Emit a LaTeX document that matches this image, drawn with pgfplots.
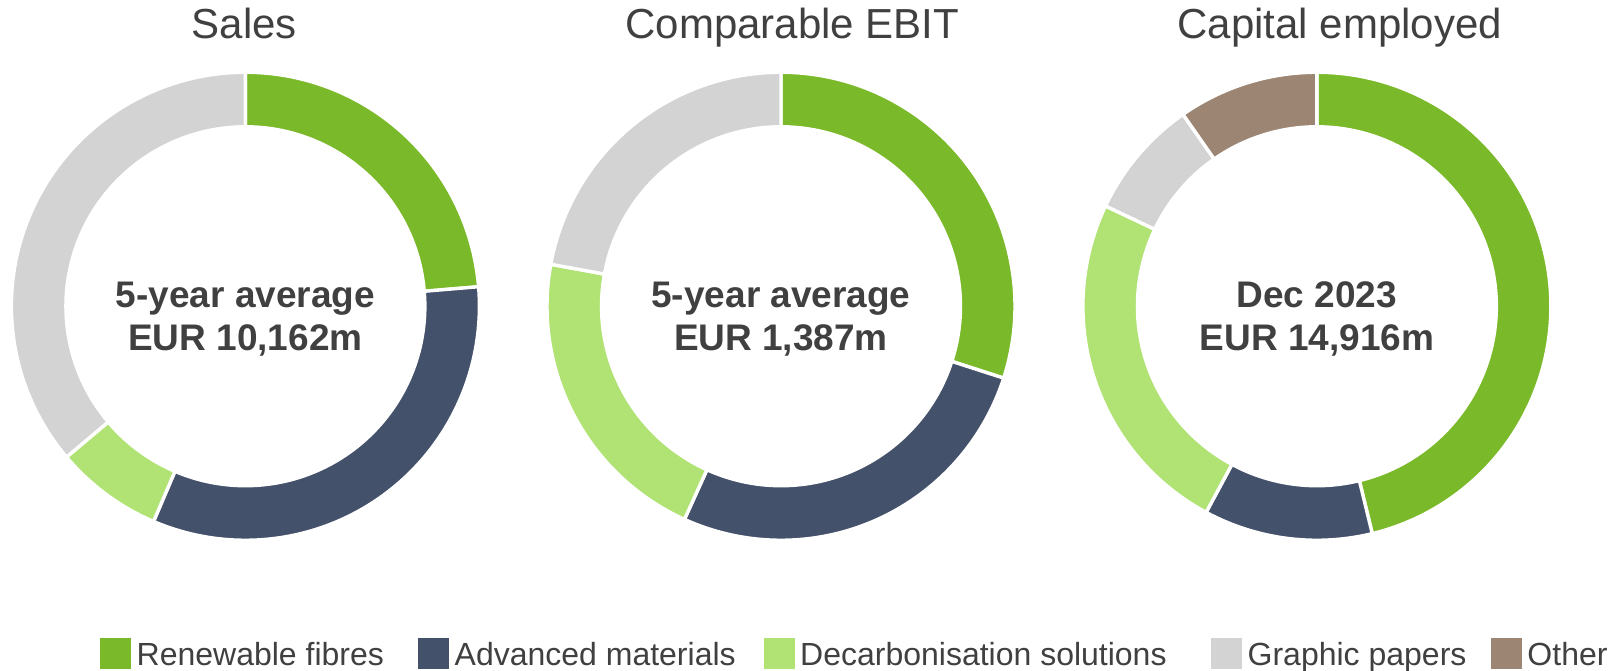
\documentclass[border=0pt]{standalone}
\usepackage{fontspec}
\setmainfont{Liberation Sans}
\usepackage{pgfplots}
\pgfplotsset{compat=1.18}
\definecolor{cRF}{HTML}{7AB929}
\definecolor{cAM}{HTML}{44516A}
\definecolor{cDS}{HTML}{B0E274}
\definecolor{cGP}{HTML}{D3D3D3}
\definecolor{cOT}{HTML}{9C8572}
\definecolor{txt}{HTML}{404040}

\newcommand\rin{0.767}
\newcommand\startdonut{\gdef\cum{0}}
% #1 = share in percent, #2 = colour
\newcommand\seg[2]{%
  \pgfmathsetmacro\aA{90-3.6*\cum}%
  \pgfmathsetmacro\newcum{\cum+#1}%
  \xdef\cum{\newcum}%
  \pgfmathsetmacro\aB{90-3.6*\cum}%
  \edef\doseg{\noexpand\addplot[forget plot, fill=#2, draw=white, line width=3.4pt,
      domain=0:3, samples=301, variable=\noexpand\t]
    ({(1-(1-\rin)*min(max(\noexpand\t-1,0),1))*cos((\aA)+((\aB)-(\aA))*(min(\noexpand\t,1)-max(\noexpand\t-2,0)))},
     {(1-(1-\rin)*min(max(\noexpand\t-1,0),1))*sin((\aA)+((\aB)-(\aA))*(min(\noexpand\t,1)-max(\noexpand\t-2,0)))}) -- cycle;}%
  \doseg
}

\pgfplotsset{donut/.style={hide axis, scale only axis, width=468pt, height=468pt,
  xmin=-1, xmax=1, ymin=-1, ymax=1, clip=false, anchor=center}}

\newcommand\titlefont{\fontsize{42pt}{50pt}\selectfont}
\newcommand\centerfont{\fontsize{37pt}{43pt}\selectfont\bfseries}

\begin{document}
\begin{tikzpicture}
\useasboundingbox (0,0) rectangle (1621pt,-671pt);

% ---------- Sales ----------
\begin{axis}[donut, at={(245.4pt,-306.25pt)},
  legend columns=5,
  legend image code/.code={\fill[#1] (0pt,-15.5pt) rectangle (31pt,15.5pt); \path (36.5pt,0pt);},
  legend style={draw=none, fill=none, inner sep=0pt, column sep=0pt,
    at={(0.1893,-0.242)}, anchor=west,
    font=\fontsize{32pt}{36pt}\selectfont, text=txt,
    nodes={inner sep=0pt, text height=23pt, text depth=0pt},
    cells={anchor=west}}]
\startdonut
\seg{23.67}{cRF}
\seg{32.75}{cAM}
\seg{7.43}{cDS}
\seg{36.15}{cGP}
\node[anchor=base, text=txt, font=\titlefont] at (axis cs:-0.004,1.145) {Sales};
\node[anchor=base, text=txt, font=\centerfont] at (axis cs:0,-0.0032) {5-year average};
\node[anchor=base, text=txt, font=\centerfont] at (axis cs:0,-0.187) {EUR 10,162m};
\addlegendimage{fill=cRF, draw=none}
\addlegendentry{\makebox[281.5pt][l]{Renewable fibres}}
\addlegendimage{fill=cAM, draw=none}
\addlegendentry{\makebox[309pt][l]{Advanced materials}}
\addlegendimage{fill=cDS, draw=none}
\addlegendentry{\makebox[411pt][l]{Decarbonisation solutions}}
\addlegendimage{fill=cGP, draw=none}
\addlegendentry{\makebox[243.3pt][l]{Graphic papers}}
\addlegendimage{fill=cOT, draw=none}
\addlegendentry{Other}
\end{axis}

% ---------- Comparable EBIT ----------
\begin{axis}[donut, at={(781pt,-306.25pt)}]
\startdonut
\seg{29.97}{cRF}
\seg{26.80}{cAM}
\seg{21.10}{cDS}
\seg{22.13}{cGP}
\node[anchor=base, text=txt, font=\titlefont] at (axis cs:0.049,1.145) {Comparable EBIT};
\node[anchor=base, text=txt, font=\centerfont] at (axis cs:0,-0.0032) {5-year average};
\node[anchor=base, text=txt, font=\centerfont] at (axis cs:0,-0.187) {EUR 1,387m};
\end{axis}

% ---------- Capital employed ----------
\begin{axis}[donut, at={(1316.9pt,-306.25pt)}]
\startdonut
\seg{46.20}{cRF}
\seg{11.65}{cAM}
\seg{24.20}{cDS}
\seg{8.25}{cGP}
\seg{9.70}{cOT}
\node[anchor=base, text=txt, font=\titlefont] at (axis cs:0.098,1.145) {Capital employed};
\node[anchor=base, text=txt, font=\centerfont] at (axis cs:0,-0.0032) {Dec 2023};
\node[anchor=base, text=txt, font=\centerfont] at (axis cs:0,-0.187) {EUR 14,916m};
\end{axis}
\end{tikzpicture}
\end{document}
